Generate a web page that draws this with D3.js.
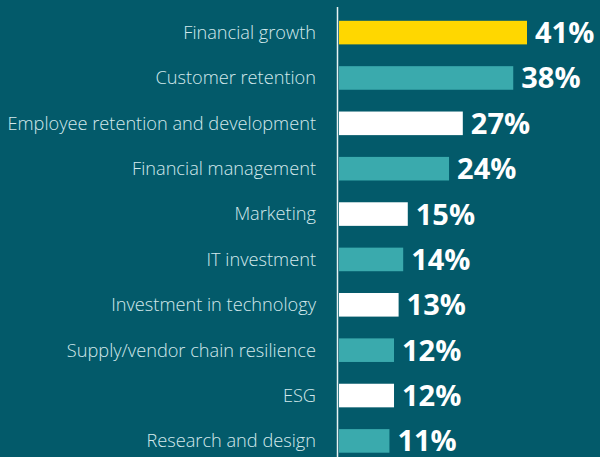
<!DOCTYPE html>
<html><head><meta charset="utf-8">
<script src="https://cdn.jsdelivr.net/npm/d3@7"></script>
<style>
html,body{margin:0;padding:0;background:#035a6a;}
svg{display:block;}
</style></head>
<body>
<svg id="chart" width="600" height="457"></svg>
<script>
const categories = ["Financial growth","Customer retention","Employee retention and development","Financial management","Marketing","IT investment","Investment in technology","Supply/vendor chain resilience","ESG","Research and design"];
const values = [41,38,27,24,15,14,13,12,12,11];
const barColors = ["#ffd700","#3aaaad","#ffffff","#3aaaad","#ffffff","#3aaaad","#ffffff","#3aaaad","#ffffff","#3aaaad"];

const svg = d3.select("#chart");
const W = 600, H = 457;
svg.append("rect").attr("width",W).attr("height",H).attr("fill","#035a6a");

const x0 = 339;
const x = d3.scaleLinear().domain([0,41]).range([x0, 527]);
const y = d3.scaleBand().domain(categories).range([9, 464.5]).paddingInner(0.48).paddingOuter(0.26);

svg.append("line").attr("x1",337.5).attr("x2",337.5).attr("y1",7).attr("y2",H)
  .attr("stroke","#e8f2f3").attr("stroke-width",1.5);

svg.selectAll("rect.bar").data(categories).join("rect").attr("class","bar")
  .attr("x",x0).attr("y",d=>y(d)).attr("height",y.bandwidth())
  .attr("width",(d,i)=>x(values[i])-x0).attr("fill",(d,i)=>barColors[i]);

svg.selectAll("text.cat").data(categories).join("text").attr("class","cat")
  .attr("x",316).attr("y",d=>y(d)+y.bandwidth()/2).attr("dy","0.35em")
  .attr("text-anchor","end").attr("fill","#d3e9ec")
  .style("font-family","'Open Sans', sans-serif").style("font-weight",300).style("font-size","18.2px")
  .text(d=>d);

svg.selectAll("text.val").data(categories).join("text").attr("class","val")
  .attr("x",(d,i)=>x(values[i])+8).attr("y",d=>y(d)+y.bandwidth()/2).attr("dy","0.36em")
  .attr("fill","#ffffff")
  .style("font-family","'Open Sans', sans-serif").style("font-weight",700).style("font-size","29px")
  .text((d,i)=>values[i]+"%");
</script>
</body></html>
